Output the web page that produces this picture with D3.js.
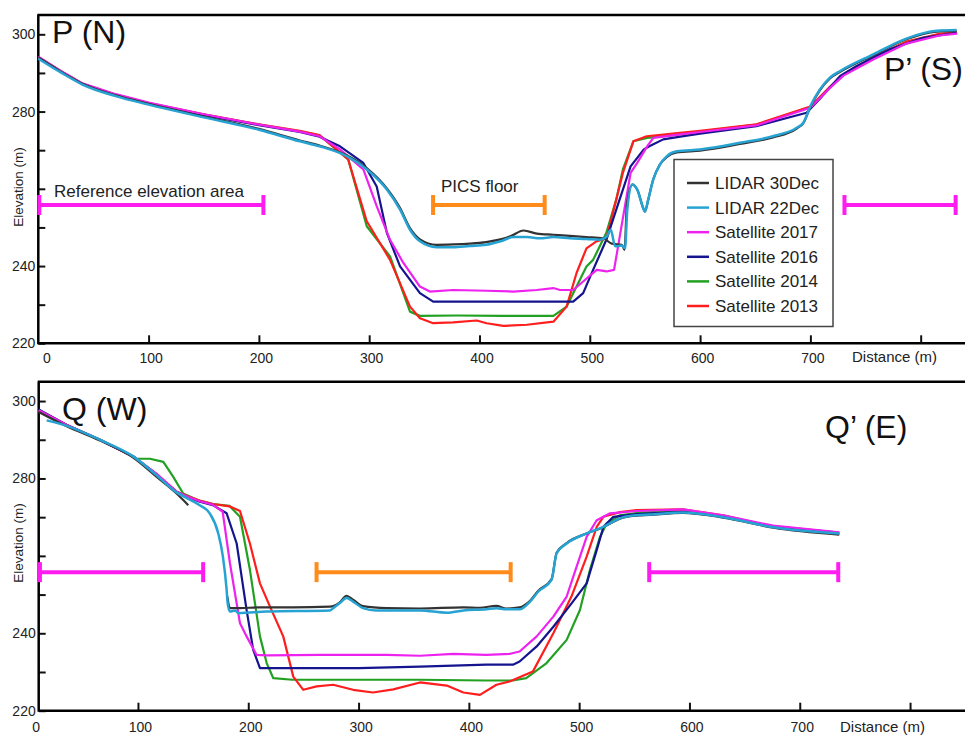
<!DOCTYPE html>
<html><head><meta charset="utf-8">
<script src="https://cdn.jsdelivr.net/npm/d3@7"></script>
<style>
html,body{margin:0;padding:0;background:#fff;}
svg{display:block;font-family:"Liberation Sans",Arial,Helvetica,sans-serif;}
</style></head>
<body><svg id="c" width="965" height="737"></svg>
<script>
// ---------- DATA ----------
const seriesNames = ["LIDAR 30Dec","LIDAR 22Dec","Satellite 2017","Satellite 2016","Satellite 2014","Satellite 2013"];
const seriesColors = ["#333333","#27a3d3","#ee22ee","#14148f","#22a022","#ff1e1e"];
const xTickValues = [0,100,200,300,400,500,600,700,800];
const xTickLabels = ["0","100","200","300","400","500","600","700",""];
const yTickValues = [220,230,240,250,260,270,280,290,300];
const yTickLabels = ["220","","240","","","","280","","300"];

// Profile P (top)
const pLidar30 = [[0,294],[20,290.4],[40,287.2],[70,284.2],[100,282],[150,278.7],[200,275.5],[237,272.5],[255,271.2],[280,268.6],[298,265.3],[316,260.1],[328,255],[337,249.8],[346,246.9],[361,245.5],[376,245.6],[391,245.8],[406,246.2],[419,246.9],[428,247.7],[440,249.2],[452,248.4],[467,248.1],[482,247.8],[497,247.5],[512,247.2],[520,245.8],[529,245.5],[531.6,244.2],[533.5,255.5],[538.6,261.1],[543,259.8],[549,254.6],[550,254.1],[553,257.2],[557.5,262.4],[563.6,266.3],[569.7,268.2],[578.8,269.4],[600,269.9],[636,271.6],[666,273.3],[687.6,275.6],[693.6,277],[700,281.2],[717.7,288.6],[727,290.3],[757,294.6],[787,298.7],[814.5,300.7],[832.6,300.9]];
const pLidar22 = [[0,293.7],[20,290.2],[40,287],[70,284],[100,281.8],[150,278.5],[200,275.3],[237,272.3],[255,271],[280,268.4],[298,265],[316,259.8],[328,254.6],[337,249.4],[346,246.4],[361,244.9],[376,244.9],[391,245.2],[406,245.5],[419,246.4],[431,247.5],[443,247.5],[455,247.2],[467,247.5],[482,247.2],[497,247],[509,246.8],[515,247.5],[519,249.4],[523,245.1],[529,245.3],[532,244.6],[534,254.6],[538.6,261.1],[543,259.8],[549,254.6],[550,254.1],[553,257.2],[557.5,262.4],[563.6,266.3],[569.7,268.4],[578.8,269.7],[600,270.2],[636,271.9],[666,273.6],[687.6,275.8],[693.6,277.1],[700,281.4],[717.7,288.8],[727,290.5],[757,294.8],[787,298.9],[814.5,300.9],[832.6,301.1]];
const p2017 = [[0,294.2],[20,290.6],[40,287.3],[70,284.5],[100,282.3],[150,279.3],[200,276.6],[237,274.8],[255,273.6],[273.5,270.2],[294.7,265],[306.8,255.5],[318.9,246.8],[331,240.8],[346,234.7],[355,233.4],[376,233.8],[406.5,233.6],[430.7,233.4],[451.8,233.8],[467,234.3],[473,233.8],[485,233.8],[494,236],[506.3,239],[515.3,238.6],[522,239],[537,264.1],[543,266.7],[552,271],[557.6,273.2],[582,274.1],[600,274.7],[651,276.4],[700,281],[718,286.2],[730,289.3],[757,293.5],[787,297.6],[817,299.7],[833,300.2]];
const p2016 = [[0,294],[20,290.4],[40,287.1],[70,284.3],[100,282.1],[150,279.1],[200,276.5],[237,274.7],[255,273.5],[273.5,271],[294.7,266.7],[306.8,260.6],[316,248.6],[328,239.9],[346,233],[358,230.8],[400,230.8],[450,230.8],[485,230.8],[494,233],[503,239],[515,246.8],[527,257.2],[537,265.8],[549,270.2],[554,271],[566.6,272.8],[582,273.5],[600,274.3],[651,276.2],[696.6,279.7],[708,283.1],[727,289.2],[742,291.8],[772,296.1],[802,299.1],[832.6,300.4]];
const p2014 = [[0,294.1],[20,290.5],[40,287.2],[70,284.4],[100,282.2],[150,279.2],[200,276.6],[237,274.9],[255,273.8],[281,267.6],[297.8,250.3],[318.9,242.5],[337,228.2],[346,227.1],[380,227.2],[420,227.1],[467,227.1],[479,229.5],[488,234.7],[497,239.9],[503,241.6],[515,248.6],[524,257.2],[530,265],[539.5,272.3],[552,273.2],[582,274.1],[600,274.8],[651,276.6],[700,281.2],[718,286.4],[730,289.5],[757,294],[787,298],[817,300],[833,300.4]];
const p2013 = [[0,294.1],[20,290.5],[40,287.2],[70,284.4],[100,282.2],[150,279.3],[200,276.7],[237,275],[255,273.9],[281,267.6],[297.8,251.6],[318.9,241.6],[337,229.5],[346,226.5],[358,225.2],[376,225.4],[397.5,225.9],[406.5,225.2],[421.6,224.5],[443,224.8],[467,225.6],[479,229.5],[488,238.2],[497,244.6],[506,246.4],[515,247.2],[524,257.2],[530,264.1],[539.5,272.3],[551.6,273.6],[581.8,274.5],[600,275],[651,276.7],[700,281.3],[718,286.5],[730,289.6],[757,294.1],[787,298.1],[817,300.1],[833,300.5]];

// Profile Q (bottom)
const qLidar30 = [[10,297.2],[35.4,293.5],[65.5,289.8],[95.7,285.4],[117,280.4],[135,276.1],[145.6,273.1],null,[181,249.5],[183.4,246.5],[192.5,246.5],[210,246.7],[240,246.7],[274,246.9],[283,248],[289,249.7],[295,248.7],[304,247],[325.5,246.5],[355.7,246.4],[395,246.7],[410,246.6],[425,247.1],[434,246.4],[446,246.7],[455.5,248.4],[463,251],[475,254],[479.6,260.8],[488.7,263.3],[506.8,265.8],[521.9,267.4],[537,269.6],[552,270.4],[564,270.6],[594,271.1],[630.6,269.9],[676,267.3],[735.8,265.5]];
const qLidar22 = [[17.2,295],[35.4,293.6],[65.5,290],[95.7,285.7],[117,280.8],[135,276.4],[144,275],[156,273.1],[165,271],[172.8,265.8],[177,259.8],[180.4,251.2],[181.3,247.8],[183.4,245.6],[188,245.9],[191,245.2],[216.7,245.6],[274,245.9],[277,246.5],[283,247.8],[289,249.1],[295,248.2],[304,246.5],[316,245.9],[355.7,245.9],[380,245.3],[395,245.9],[416,246.2],[425,246.5],[434,246.2],[446,246.2],[455.5,248.2],[463,250.8],[475,253.8],[479.6,260.7],[488.7,263.2],[506.8,265.8],[521.9,267.5],[537,269.7],[552,270.5],[564,270.7],[594,271.2],[630.6,270],[676,267.4],[735.8,265.8]];
const q2017 = [[10,297.6],[35.4,293.8],[65.5,290],[95.7,285.7],[117,281.2],[135,276.6],[144,275.4],[156,274.1],[168,273.2],[176.8,271.4],[183.4,258.1],[192.5,242.6],[198.5,239.2],[207.6,234.4],[216.7,234.3],[265,234.4],[325.5,234.4],[355.7,234.2],[385.8,234.7],[416,234.4],[437.5,234.7],[446,235.3],[461.5,239.2],[476.6,244.3],[488.7,249.5],[497.7,257.2],[506.8,264.9],[515.9,269.2],[528,271],[552,271.6],[594,272],[630.6,270.5],[676,267.8],[735.8,266.1]];
const q2016 = [[10,297.8],[35.4,293.8],[65.5,290],[95.7,285.7],[117,281],[135,276.5],[144,275.3],[156,274],[168,273.1],[180.4,271],[189.5,263.2],[198.5,246],[204.5,235.7],[210.6,231],[250,231],[300,231],[355.7,231.4],[416,231.9],[440,231.9],[446,232.7],[461.5,236.6],[476.6,241.7],[493.3,247.8],[506.8,252.9],[515.9,261.5],[522,267.5],[531,270.1],[552,270.8],[594,271.4],[630.6,270.2],[676,267.6],[735.8,266]];
const q2014 = [[10,297.6],[35.4,293.8],[65.5,290],[95.7,285.7],[98.8,285.1],[110.9,285.1],[123,284.3],[132,280.4],[141,276.1],[156,274.2],[168,273.4],[183,272.9],[192.5,270.1],[201.5,256.4],[210.6,239.2],[216.7,232.3],[222.7,228.4],[240,228],[300,228],[355.7,228],[416,227.8],[440,227.8],[452,228.4],[470.5,232.3],[488.7,238.3],[500.7,246],[509.8,256.4],[518.9,264.9],[525,268.4],[537,270.5],[555,271.2],[594,271.6],[630.6,270.3],[676,267.6],[735.8,265.8]];
const q2013 = [[10,297.6],[35.4,293.8],[65.5,290],[95.7,285.7],[117,281.1],[135,276.6],[144,275.5],[156,274.3],[168,273.4],[183,272.8],[192.5,271.6],[201.5,263.2],[210.6,252.9],[219.7,246.9],[231.7,239.2],[240.8,228.8],[249.9,225.4],[262,226.3],[277,226.7],[295,225.4],[313,224.7],[331.5,225.5],[355.7,227.3],[380,226.5],[395,224.7],[410,224.1],[425,226.7],[437.5,227.6],[458,230.1],[476.6,240],[493,249.5],[506.8,259.8],[515.9,267.5],[522,270.1],[537,271.3],[552,271.8],[594,272],[630.6,270.5],[676,267.5],[735.8,265.6]];

// annotation ranges (distance m) and level (m)
const pRefRanges = [[0,205],[730,832.6]];
const pPicsRange = [357,460];
const qRefRanges = [[10.2,160],[562.6,735.8]];
const qPicsRange = [261,438.8];
const barLevel = 255.8;

// ---------- DRAW ----------
const svg = d3.select("#c");
const FONT = '"Liberation Sans",Arial,Helvetica,sans-serif';

const panels = [
  {series:[pLidar30,pLidar22,p2017,p2016,p2014,p2013], xdom:[0,840], xr:[38.3,964.8], yr:[343.3,15],
   refs:pRefRanges, pics:pPicsRange, tickPad:9.5, title:[{t:"P (N)",x:52,y:43},{t:"P\u2019 (S)",x:884,y:80}],
   distY:362, elevY:187},
  {series:[qLidar30,qLidar22,q2017,q2016,q2014,q2013], xdom:[10,850], xr:[38.7,965.2], yr:[710.7,381.7],
   refs:qRefRanges, pics:qPicsRange, tickPad:11, title:[{t:"Q (W)",x:62,y:420},{t:"Q\u2019 (E)",x:825,y:438}],
   distY:732, elevY:543}
];

panels.forEach((P,pi)=>{
  const x = d3.scaleLinear().domain(P.xdom).range(P.xr);
  const y = d3.scaleLinear().domain([220,305]).range(P.yr);
  const g = svg.append("g");
  const left = P.xr[0], top = P.yr[1], bottom = P.yr[0];

  // x axis
  const xa = g.append("g").attr("transform",`translate(0,${bottom})`)
    .call(d3.axisBottom(x).tickValues(xTickValues).tickFormat((d,i)=>xTickLabels[i])
      .tickSizeInner(-8).tickSizeOuter(0).tickPadding(P.tickPad));
  xa.select(".domain").remove();
  xa.selectAll(".tick line").attr("stroke","#111").attr("stroke-width",2)
    .attr("display",d=>d===0?"none":null);
  xa.selectAll(".tick text").attr("font-size",14).attr("font-family",FONT).attr("fill","#222")
    .attr("dx",d=>d===0?8:2);

  // y axis
  const ya = g.append("g").attr("transform",`translate(${left},0)`)
    .call(d3.axisLeft(y).tickValues(yTickValues).tickFormat((d,i)=>yTickLabels[i])
      .tickSizeInner(-7).tickSizeOuter(0).tickPadding(3));
  ya.select(".domain").remove();
  ya.selectAll(".tick line").attr("stroke","#111").attr("stroke-width",2);
  ya.selectAll(".tick text").attr("font-size",14).attr("font-family",FONT).attr("fill","#222");

  // frame
  g.append("path").attr("d",`M${left},${bottom}H965M${left},${bottom+1}V${top}M${left-1},${top}H965`)
    .attr("fill","none").attr("stroke","#000").attr("stroke-width",2.5);

  // lines: LIDAR smooth, satellite piecewise straight
  const smooth = d3.line().defined(d=>d!==null).x(d=>x(d[0])).y(d=>y(d[1])).curve(d3.curveMonotoneX);
  const straight = d3.line().defined(d=>d!==null).x(d=>x(d[0])).y(d=>y(d[1]));
  const order = [4,5,3,2,0,1];
  order.forEach(si=>{
    g.append("path").datum(P.series[si]).attr("d",si<2?smooth:straight)
      .attr("fill","none").attr("stroke",seriesColors[si])
      .attr("stroke-width",si===1?2.5:2.2).attr("stroke-linejoin","round");
  });

  // range bars
  function bar(r,color){
    const yy = y(barLevel);
    const bg = g.append("g").attr("stroke",color).attr("stroke-width",4);
    bg.append("line").attr("x1",x(r[0])).attr("x2",x(r[1])).attr("y1",yy).attr("y2",yy);
    bg.append("line").attr("x1",x(r[0])+1).attr("x2",x(r[0])+1).attr("y1",yy-10).attr("y2",yy+10);
    bg.append("line").attr("x1",x(r[1])-1).attr("x2",x(r[1])-1).attr("y1",yy-10).attr("y2",yy+10);
  }
  P.refs.forEach(r=>bar(r,"#ff1cf0"));
  bar(P.pics,"#ff8c1a");

  // titles
  P.title.forEach(t=>{
    g.append("text").attr("x",t.x).attr("y",t.y).text(t.t)
      .attr("font-size",32).attr("font-family",FONT).attr("fill","#111");
  });

  g.append("text").attr("x",pi===0?852:840).attr("y",P.distY).text("Distance (m)")
    .attr("font-size",15).attr("font-family",FONT).attr("fill","#222");
  g.append("text").attr("transform",`translate(23,${P.elevY}) rotate(-90)`).attr("text-anchor","middle")
    .text("Elevation (m)").attr("font-size",13.5).attr("font-family",FONT).attr("fill","#222");

  if(pi===0){
    g.append("text").attr("x",54).attr("y",197).text("Reference elevation area")
      .attr("font-size",17).attr("font-family",FONT).attr("fill","#222");
    g.append("text").attr("x",441).attr("y",192).text("PICS floor")
      .attr("font-size",17).attr("font-family",FONT).attr("fill","#222");

    // legend
    const lg = g.append("g");
    lg.append("rect").attr("x",674).attr("y",159.5).attr("width",159).attr("height",167)
      .attr("fill","#fff").attr("stroke","#444").attr("stroke-width",1.5);
    seriesNames.forEach((n,i)=>{
      const yy = 183 + i*24.6;
      lg.append("line").attr("x1",687).attr("x2",709).attr("y1",yy).attr("y2",yy)
        .attr("stroke",seriesColors[i]).attr("stroke-width",2.5);
      lg.append("text").attr("x",715).attr("y",yy+6).text(n)
        .attr("font-size",17).attr("font-family",FONT).attr("fill","#222");
    });
  }
});
</script></body></html>
